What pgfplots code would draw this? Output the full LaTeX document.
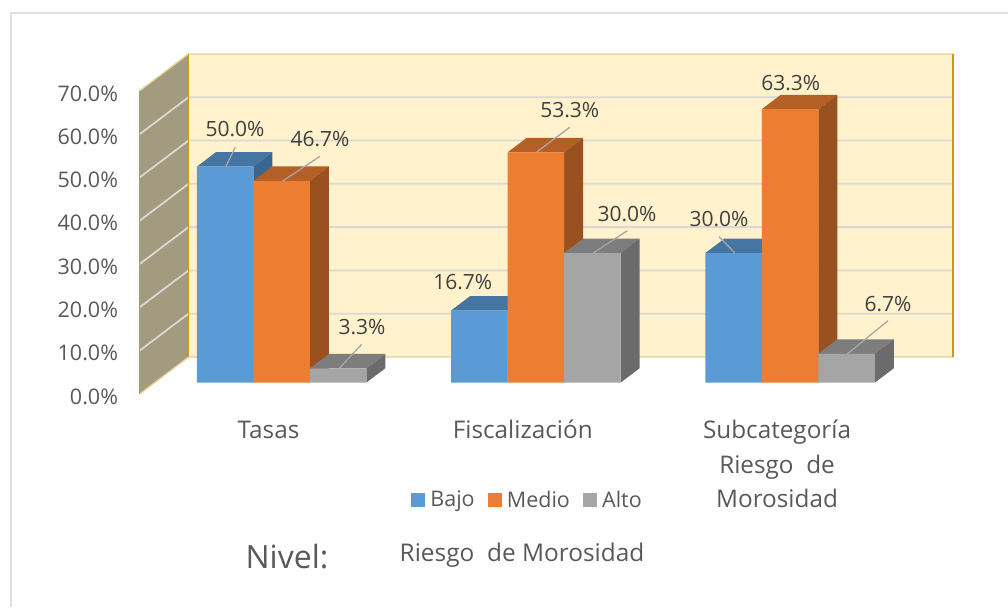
\documentclass[border=0pt]{standalone}
\usepackage{fontspec}
\setmainfont{Open Sans}
\usepackage{pgfplots}
\pgfplotsset{compat=1.18}
\definecolor{cBlue}{HTML}{5B9BD5}\definecolor{cBlueT}{HTML}{4575A2}\definecolor{cBlueS}{HTML}{3B658C}
\definecolor{cOr}{HTML}{ED7D31}\definecolor{cOrT}{HTML}{B45F25}\definecolor{cOrS}{HTML}{9A5120}
\definecolor{cGr}{HTML}{A5A5A5}\definecolor{cGrT}{HTML}{7D7D7D}\definecolor{cGrS}{HTML}{6B6B6B}
\definecolor{cWall}{HTML}{FFF2CC}\definecolor{cSide}{HTML}{A39B7F}\definecolor{cGold}{HTML}{C99A12}
\definecolor{cEdge}{HTML}{E3CF96}\definecolor{cGrid}{HTML}{DAD8D3}\definecolor{cFrame}{HTML}{E0E0E0}
\definecolor{cTick}{HTML}{595959}\definecolor{cLab}{HTML}{404040}\definecolor{cLead}{HTML}{A6A6A6}
\newcommand{\fs}[1]{\fontsize{#1}{34.5}\selectfont}
\tikzset{lab/.style={font=\fs{21},text=cLab,inner sep=0pt}}
\pgfplotsset{pxaxis/.style={scale only axis,width=1008pt,height=607pt,at={(0pt,0pt)},anchor=south west,
  xmin=0,xmax=1008,ymin=0,ymax=607,y dir=reverse,hide axis,clip=false}}
\begin{document}
\begin{tikzpicture}
\path[use as bounding box] (0pt,0pt) rectangle (1008pt,607pt);
% outer frame
\begin{axis}[pxaxis]
\addplot[draw=cFrame,line width=2pt] coordinates {(10.5,607)(10.5,13.5)(1008,13.5)};
\end{axis}
% walls and value axis
\begin{axis}[scale only axis,width=813.5pt,height=303pt,at={(139.5pt,213pt)},anchor=south west,
  xmin=139.5,xmax=953,ymin=0,ymax=70,clip=false,hide x axis,axis y line=left,y axis line style={draw=none},
  ytick={0,10,20,30,40,50,60,70},major tick length=0pt,
  yticklabel={\pgfmathprintnumber{\tick}\%},
  /pgf/number format/assume math mode=true,
  /pgf/number format/.cd,fixed,fixed zerofill,precision=1,/tikz/.cd,
  yticklabel style={font=\fs{21.5},text=cTick,xshift=-18pt,yshift=-2.5pt}]
\addplot[fill=cWall,draw=none] coordinates {(188.5,8.55)(953,8.55)(953,78.55)(188.5,78.55)} --cycle;
\addplot[fill=cSide,draw=none] coordinates {(139.5,0)(188.5,8.55)(188.5,78.55)(139.5,70)} --cycle;
\addplot[draw=cGrid,line width=1.8pt] coordinates {(139.5,10)(188.5,18.55)(953,18.55)};
\addplot[draw=cGrid,line width=1.8pt] coordinates {(139.5,20)(188.5,28.55)(953,28.55)};
\addplot[draw=cGrid,line width=1.8pt] coordinates {(139.5,30)(188.5,38.55)(953,38.55)};
\addplot[draw=cGrid,line width=1.8pt] coordinates {(139.5,40)(188.5,48.55)(953,48.55)};
\addplot[draw=cGrid,line width=1.8pt] coordinates {(139.5,50)(188.5,58.55)(953,58.55)};
\addplot[draw=cGrid,line width=1.8pt] coordinates {(139.5,60)(188.5,68.55)(953,68.55)};
\addplot[draw=cEdge,line width=1.4pt] coordinates {(139.5,70)(188.5,78.55)(953,78.55)};
\addplot[draw=cEdge,line width=1.4pt] coordinates {(139.5,0)(188.5,8.55)(953,8.55)};
\addplot[draw=cGold,line width=0.8pt] coordinates {(188.5,8.55)(188.5,78.55)};
\addplot[draw=cGold,line width=1.8pt] coordinates {(139.5,0)(139.5,70)};
\addplot[draw=cGold,line width=1.8pt] coordinates {(953,8.55)(953,78.55)};
\end{axis}
% bars
\begin{axis}[scale only axis,width=1008pt,height=382.7pt,at={(0pt,224.3pt)},anchor=south west,
  xmin=-1.10718,xmax=2.8574,ymin=0,ymax=88.588,hide y axis,axis x line=bottom,x axis line style={draw=none},
  xtick={0,1,2},xticklabels={Tasas,Fiscalización,{Subcategoría\\Riesgo~~de\\Morosidad}},
  major tick length=0pt,
  xticklabel style={font=\fs{24.3},text=cTick,align=center,anchor=north,xshift=-13pt,yshift=-28.5pt},
  typeset ticklabels with strut,
  legend columns=3,
  legend style={at={(0.4077,-0.3055)},anchor=west,draw=none,fill=none,font=\fs{21.5},text=cTick,
    inner sep=0pt,/tikz/every even column/.append style={column sep=11pt},
    /tikz/every odd column/.append style={column sep=3.2pt}},
  legend image code/.code={\path[#1,draw=none] (0pt,-7pt) rectangle (14pt,7pt);}]
% Bajo
\addplot[forget plot,fill=cBlueT,draw=none] coordinates {(-0.3333,50)(-0.1111,50)(-0.0361,53.35)(-0.2583,53.35)} --cycle;
\addplot[forget plot,fill=cBlueS,draw=none] coordinates {(-0.1111,0)(-0.1111,50)(-0.0361,53.35)(-0.0361,3.35)} --cycle;
\addplot[forget plot,fill=cBlueT,draw=none] coordinates {(0.6667,16.7)(0.8889,16.7)(0.9639,20.05)(0.7417,20.05)} --cycle;
\addplot[forget plot,fill=cBlueS,draw=none] coordinates {(0.8889,0)(0.8889,16.7)(0.9639,20.05)(0.9639,3.35)} --cycle;
\addplot[forget plot,fill=cBlueT,draw=none] coordinates {(1.6667,30)(1.8889,30)(1.9639,33.35)(1.7417,33.35)} --cycle;
\addplot[forget plot,fill=cBlueS,draw=none] coordinates {(1.8889,0)(1.8889,30)(1.9639,33.35)(1.9639,3.35)} --cycle;
\addplot[ybar,bar width=0.2222,bar shift=-0.2222,fill=cBlue,draw=none] coordinates {(0,50)(1,16.7)(2,30)};
% Medio
\addplot[forget plot,fill=cOrT,draw=none] coordinates {(-0.1111,46.7)(0.1111,46.7)(0.1861,50.05)(-0.0361,50.05)} --cycle;
\addplot[forget plot,fill=cOrS,draw=none] coordinates {(0.1111,0)(0.1111,46.7)(0.1861,50.05)(0.1861,3.35)} --cycle;
\addplot[forget plot,fill=cOrT,draw=none] coordinates {(0.8889,53.3)(1.1111,53.3)(1.1861,56.65)(0.9639,56.65)} --cycle;
\addplot[forget plot,fill=cOrS,draw=none] coordinates {(1.1111,0)(1.1111,53.3)(1.1861,56.65)(1.1861,3.35)} --cycle;
\addplot[forget plot,fill=cOrT,draw=none] coordinates {(1.8889,63.3)(2.1111,63.3)(2.1861,66.65)(1.9639,66.65)} --cycle;
\addplot[forget plot,fill=cOrS,draw=none] coordinates {(2.1111,0)(2.1111,63.3)(2.1861,66.65)(2.1861,3.35)} --cycle;
\addplot[ybar,bar width=0.2222,bar shift=0,fill=cOr,draw=none] coordinates {(0,46.7)(1,53.3)(2,63.3)};
% Alto
\addplot[forget plot,fill=cGrT,draw=none] coordinates {(0.1111,3.3)(0.3333,3.3)(0.4083,6.65)(0.1861,6.65)} --cycle;
\addplot[forget plot,fill=cGrS,draw=none] coordinates {(0.3333,0)(0.3333,3.3)(0.4083,6.65)(0.4083,3.35)} --cycle;
\addplot[forget plot,fill=cGrT,draw=none] coordinates {(1.1111,30)(1.3333,30)(1.4083,33.35)(1.1861,33.35)} --cycle;
\addplot[forget plot,fill=cGrS,draw=none] coordinates {(1.3333,0)(1.3333,30)(1.4083,33.35)(1.4083,3.35)} --cycle;
\addplot[forget plot,fill=cGrT,draw=none] coordinates {(2.1111,6.7)(2.3333,6.7)(2.4083,10.05)(2.1861,10.05)} --cycle;
\addplot[forget plot,fill=cGrS,draw=none] coordinates {(2.3333,0)(2.3333,6.7)(2.4083,10.05)(2.4083,3.35)} --cycle;
\addplot[ybar,bar width=0.2222,bar shift=0.2222,fill=cGr,draw=none] coordinates {(0,3.3)(1,30)(2,6.7)};
\legend{Bajo,Medio,Alto}
\end{axis}
% data labels, leader lines, titles
\begin{axis}[pxaxis]
\addplot[draw=cLead,line width=1.3pt] coordinates {(225.7,166.7)(235.3,147.3)};
\addplot[draw=cLead,line width=1.3pt] coordinates {(282.7,181)(320,156.3)};
\addplot[draw=cLead,line width=1.3pt] coordinates {(339.3,368.3)(361.7,344.3)};
\addplot[draw=cLead,line width=1.3pt] coordinates {(536.7,152)(569.7,127.3)};
\addplot[draw=cLead,line width=1.3pt] coordinates {(593.3,253)(627.3,230.7)};
\addplot[draw=cLead,line width=1.3pt] coordinates {(734.7,252.7)(719,236.7)};
\addplot[draw=cLead,line width=1.3pt] coordinates {(847.3,354)(888,320.7)};
\node[lab] at (axis cs:235,129) {50.0\%};
\node[lab] at (axis cs:320,138.7) {46.7\%};
\node[lab] at (axis cs:362,326.7) {3.3\%};
\node[lab] at (axis cs:462.7,282) {16.7\%};
\node[lab] at (axis cs:569.7,110) {53.3\%};
\node[lab] at (axis cs:627,214) {30.0\%};
\node[lab] at (axis cs:719,219) {30.0\%};
\node[lab] at (axis cs:790.7,83) {63.3\%};
\node[lab] at (axis cs:888,304) {6.7\%};
\node[font=\fs{32},text=cTick,inner sep=0pt,anchor=base] at (axis cs:287,568) {Nivel:};
\node[font=\fs{24.4},text=cTick,inner sep=0pt,anchor=base] at (axis cs:522,561) {Riesgo~~de Morosidad};
\end{axis}
\end{tikzpicture}
\end{document}
